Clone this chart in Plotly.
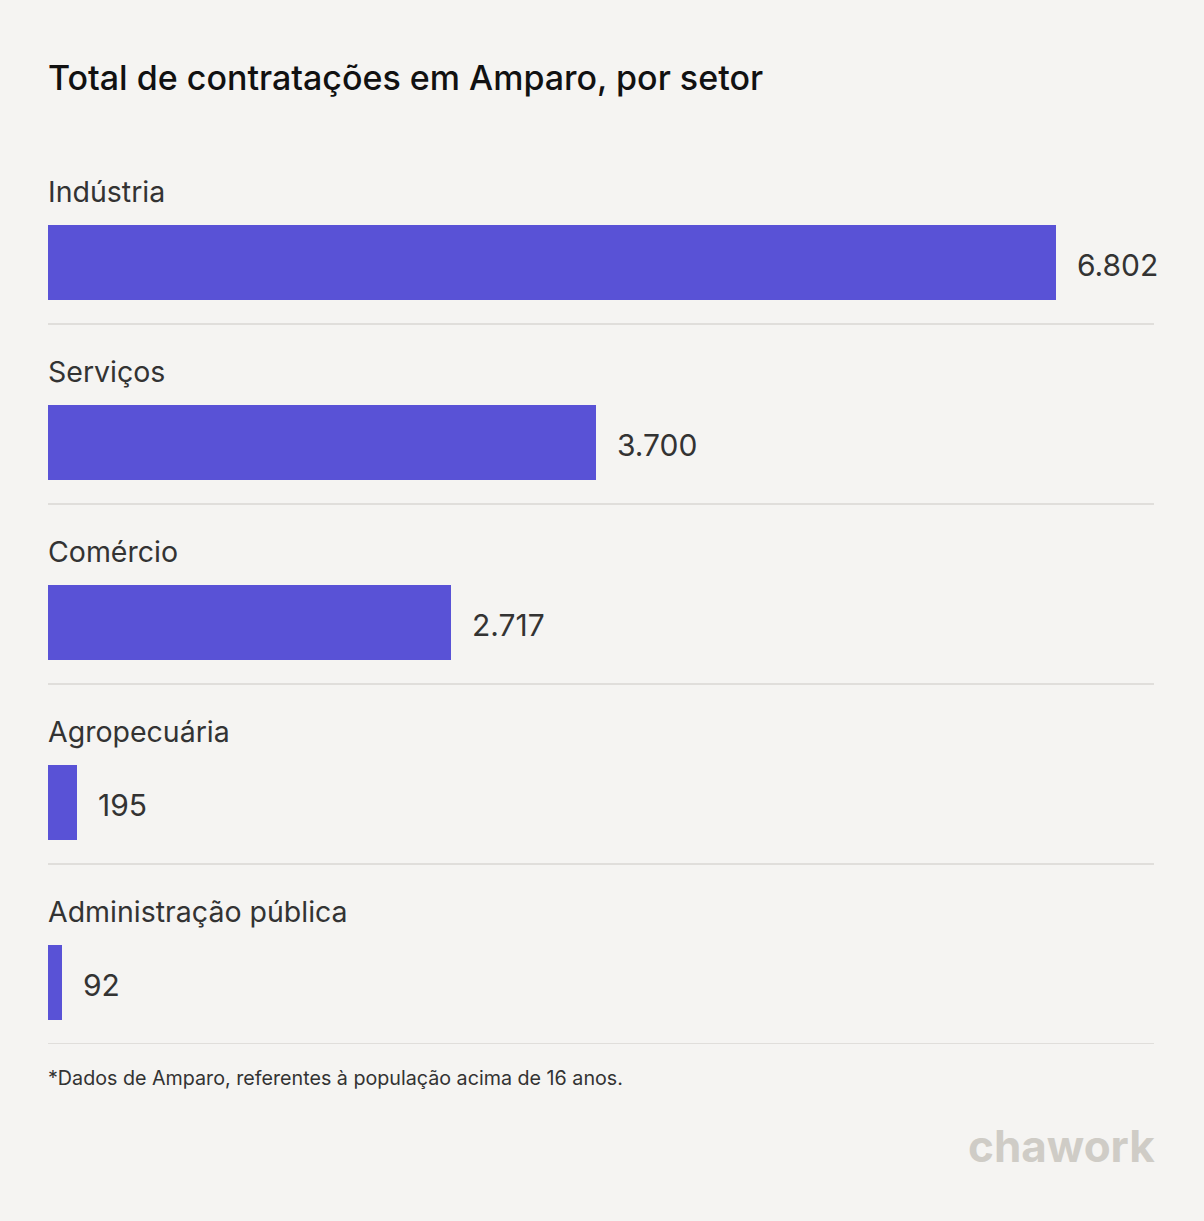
import plotly.graph_objects as go

categories = ["Indústria", "Serviços", "Comércio", "Agropecuária", "Administração pública"]
values = [6802, 3700, 2717, 195, 92]
value_labels = ["6.802", "3.700", "2.717", "195", "92"]

BG = "#f5f4f2"
BAR = "#5952d6"
FONT = "Inter"

W, H = 1204, 1221
L, R, T, B = 48, 50, 144, 177
plot_w = W - L - R
plot_h = H - T - B
n = len(categories)

# scale: largest bar ends at 1056 px
px_per_unit = (1056 - L) / max(values)
xmax = plot_w / px_per_unit

ypos = [i + 0.658 for i in range(n)]

fig = go.Figure()
fig.add_trace(go.Bar(
    x=values, y=ypos, orientation="h",
    width=0.42, marker=dict(color=BAR, line=dict(width=0)),
    hoverinfo="skip",
))

annotations = []
for i, (c, v, lab) in enumerate(zip(categories, values, value_labels)):
    annotations.append(dict(
        x=0, y=i + 0.26, xref="x", yref="y", text=c, showarrow=False,
        xanchor="left", yanchor="middle", xshift=-2, yshift=-1,
        font=dict(family=FONT, size=28.5, color="#333333"),
    ))
    annotations.append(dict(
        x=v, y=ypos[i], xref="x", yref="y", text=lab, showarrow=False,
        xanchor="left", yanchor="middle", xshift=19, yshift=-3,
        font=dict(family=FONT, size=30, color="#333333"),
    ))

annotations.append(dict(
    x=0, y=-(1078 - (T + plot_h)) / plot_h, xref="paper", yref="paper",
    text="*Dados de Amparo, referentes à população acima de 16 anos.",
    showarrow=False, xanchor="left", yanchor="middle", xshift=-2,
    font=dict(family=FONT, size=19.7, color="#333333"),
))
annotations.append(dict(
    x=1, y=-(1146 - (T + plot_h)) / plot_h, xref="paper", yref="paper",
    text="<b>chawork</b>", showarrow=False, xanchor="right", yanchor="middle",
    xshift=3,
    font=dict(family=FONT, size=44, color="#cfccc6"),
))

shapes = []
for i in range(n):
    shapes.append(dict(
        type="line", xref="paper", yref="y", x0=0, x1=1, y0=i + 1, y1=i + 1,
        line=dict(color="#e0dedb", width=2), layer="below",
    ))

fig.update_layout(
    width=W, height=H,
    paper_bgcolor=BG, plot_bgcolor=BG,
    margin=dict(l=L, r=R, t=T, b=B, pad=0),
    showlegend=False,
    title=dict(
        text="Total de contratações em Amparo, por setor",
        x=L / W, xanchor="left", xref="container",
        y=1 - 78 / H, yanchor="middle", yref="container",
        font=dict(family=FONT, size=34, color="#111111", weight=500),
    ),
    xaxis=dict(range=[0, xmax], visible=False, fixedrange=True),
    yaxis=dict(range=[n, 0], visible=False, fixedrange=True),
    annotations=annotations,
    shapes=shapes,
    bargap=0,
)

fig.write_html("out.html", config={"displayModeBar": False},
               post_script="document.body.style.margin='0';")
